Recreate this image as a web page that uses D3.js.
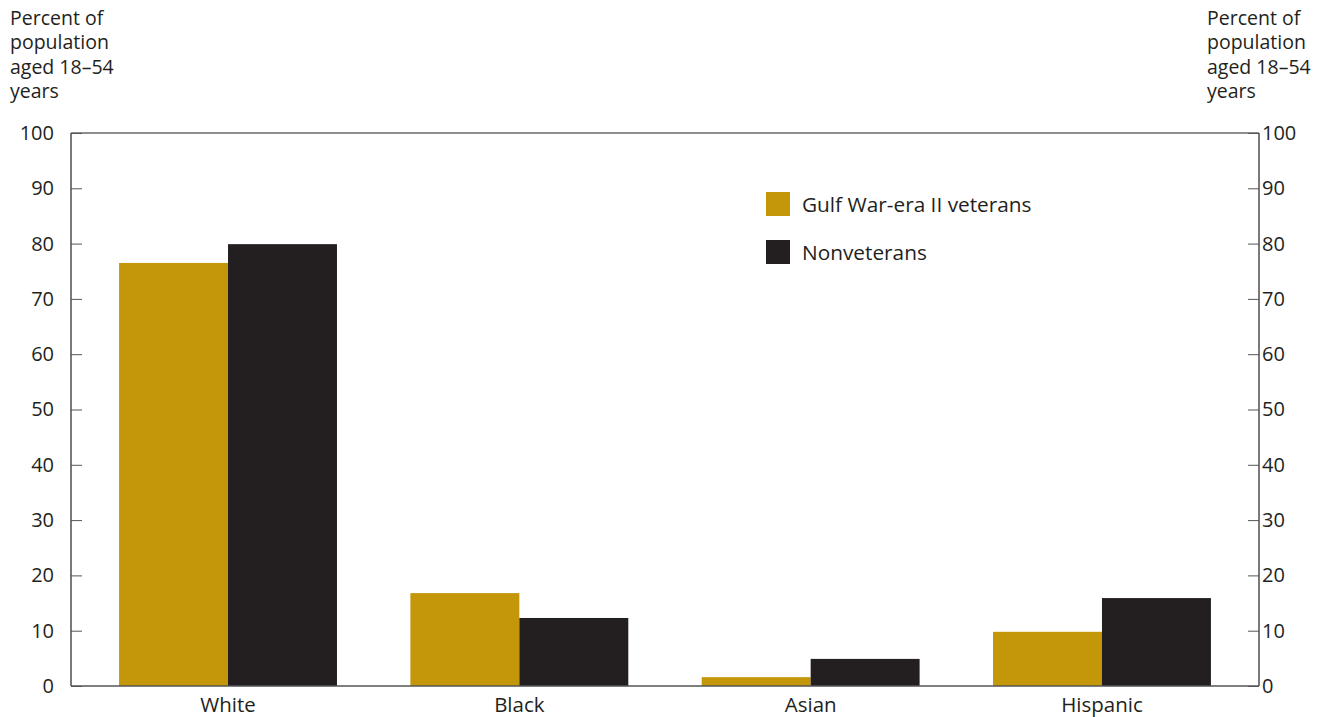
<!DOCTYPE html>
<html><head><meta charset="utf-8">
<script src="https://cdn.jsdelivr.net/npm/d3@7"></script>
<style>body{margin:0;background:#fff}svg{display:block}text{font-family:"Open Sans","Noto Sans",sans-serif;fill:#231f20}</style>
</head><body><svg id="c" width="1336" height="717"></svg>
<script>
const categories = ["White","Black","Asian","Hispanic"];
const seriesNames = ["Gulf War-era II veterans","Nonveterans"];
const veterans = [76.5, 16.8, 1.6, 9.8];
const nonveterans = [79.9, 12.3, 4.9, 15.9];
const yTicks = [0,10,20,30,40,50,60,70,80,90,100];
const yTitle = ["Percent of","population","aged 18\u201354","years"];
const colors = ["#c4960a","#231f20"];

const svg = d3.select("#c");
const L=71, R=1259, T=133, B=686;
const x = d3.scaleBand().domain(categories).range([L,R]).paddingInner(0.252).paddingOuter(0.165);
const xs = d3.scaleBand().domain(seriesNames).range([0,x.bandwidth()]);
const y = d3.scaleLinear().domain([0,100]).range([B,T]);
const data = [veterans, nonveterans];

// bars
seriesNames.forEach((s,si)=>{
  svg.append("g").selectAll("rect").data(categories).join("rect")
    .attr("x",c=>x(c)+xs(s)).attr("width",xs.bandwidth())
    .attr("y",(c,i)=>y(data[si][i])).attr("height",(c,i)=>B-y(data[si][i]))
    .attr("fill",colors[si]);
});

// frame
svg.append("line").attr("x1",L).attr("x2",R).attr("y1",T).attr("y2",T).attr("stroke","#231f20").attr("stroke-width",1.2);
svg.append("line").attr("x1",L).attr("x2",L).attr("y1",T).attr("y2",B).attr("stroke","#231f20").attr("stroke-width",1.2);
svg.append("line").attr("x1",R).attr("x2",R).attr("y1",T).attr("y2",B).attr("stroke","#231f20").attr("stroke-width",1.2);
svg.append("line").attr("x1",L).attr("x2",R).attr("y1",B).attr("y2",B).attr("stroke","#555").attr("stroke-width",1.5);

// axes
const la = svg.append("g").attr("transform",`translate(${L},0)`)
  .call(d3.axisLeft(y).tickValues(yTicks).tickSize(-11).tickPadding(17).tickFormat(d3.format("d")));
const ra = svg.append("g").attr("transform",`translate(${R},0)`)
  .call(d3.axisRight(y).tickValues(yTicks).tickSize(-11).tickPadding(3).tickFormat(d3.format("d")));
[la,ra].forEach(a=>{
  a.select(".domain").remove();
  a.selectAll(".tick line").attr("stroke","#555").attr("stroke-width",1);
  a.selectAll(".tick text").attr("font-size",20).attr("fill","#231f20").attr("font-family","'Open Sans','Noto Sans',sans-serif");
});
ra.selectAll(".tick text").attr("x",3);

// x labels
svg.append("g").selectAll("text").data(categories).join("text")
  .attr("x",c=>x(c)+x.bandwidth()/2).attr("y",712).attr("text-anchor","middle")
  .attr("font-size",20.5).text(d=>d);

// y titles (separate lines)
[10,1207].forEach(tx=>{
  svg.append("g").selectAll("text").data(yTitle).join("text")
    .attr("x",tx).attr("y",(d,i)=>25+i*24.3).attr("font-size",19.5).text(d=>d);
});

// legend
const lg = svg.append("g").selectAll("g").data(seriesNames).join("g")
  .attr("transform",(d,i)=>`translate(766,${192+i*48})`);
lg.append("rect").attr("width",24).attr("height",24).attr("fill",(d,i)=>colors[i]);
lg.append("text").attr("x",36).attr("y",20).attr("font-size",20.8).text(d=>d);
</script></body></html>
